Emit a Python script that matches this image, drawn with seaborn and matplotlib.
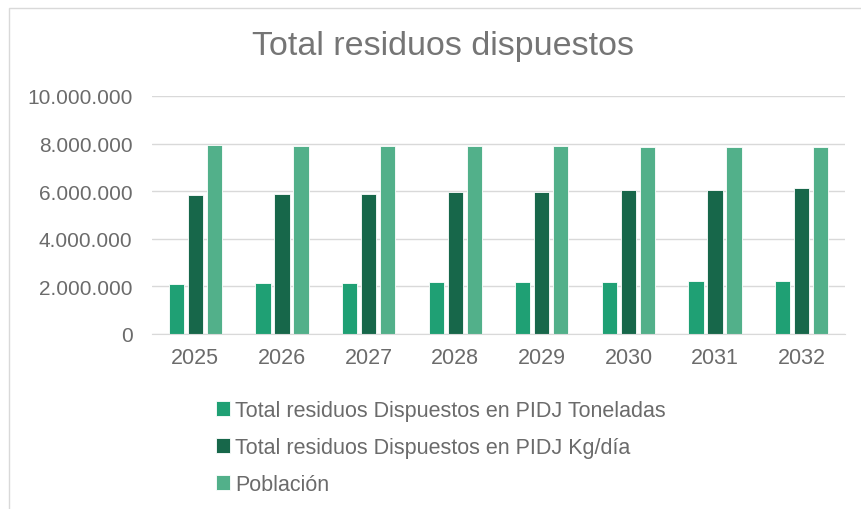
import matplotlib.pyplot as plt
from matplotlib.ticker import FuncFormatter
import seaborn as sns
import pandas as pd

# === Data ===
years = ["2025", "2026", "2027", "2028", "2029", "2030", "2031", "2032"]
toneladas = [2120000, 2140000, 2150000, 2170000, 2180000, 2200000, 2210000, 2230000]
kg_dia = [5830000, 5870000, 5900000, 5950000, 5980000, 6030000, 6070000, 6120000]
poblacion = [7930000, 7920000, 7910000, 7900000, 7880000, 7870000, 7850000, 7840000]

series_names = [
    "Total residuos Dispuestos en PIDJ Toneladas",
    "Total residuos Dispuestos en PIDJ Kg/día",
    "Población",
]
colors = ["#1fa074", "#17674a", "#52b08a"]

df = pd.DataFrame({
    "year": years * 3,
    "value": toneladas + kg_dia + poblacion,
    "serie": [series_names[0]] * 8 + [series_names[1]] * 8 + [series_names[2]] * 8,
})

sns.set_style("white")
plt.rcParams["font.family"] = ["Liberation Sans", "DejaVu Sans"]
gray = "#6b6b6b"

fig = plt.figure(figsize=(8.61, 5.10), dpi=100)
# plot area: x 152..845, y 97..335 (pixels)
ax = fig.add_axes([152 / 861, 1 - 335 / 510, 693 / 861, 238 / 510])

sns.barplot(data=df, x="year", y="value", hue="serie", palette=colors,
            saturation=1, width=0.66, gap=0.2, edgecolor="white",
            linewidth=0.6, ax=ax)

ax.set_ylim(0, 10000000)
ax.set_yticks(range(0, 10000001, 2000000))
ax.yaxis.set_major_formatter(FuncFormatter(lambda v, p: f"{int(v):,}".replace(",", ".")))
ax.grid(axis="y", color="#d9d9d9", linewidth=1)
ax.set_axisbelow(True)
for s in ["top", "right", "left"]:
    ax.spines[s].set_visible(False)
ax.spines["bottom"].set_color("#d9d9d9")
ax.tick_params(axis="y", colors=gray, labelsize=15, length=0, pad=14)
ax.tick_params(axis="x", colors=gray, labelsize=15.5, length=0, pad=9)
ax.set_xlabel("")
ax.set_ylabel("")

fig.text(0.514, 1 - 47 / 510, "Total residuos dispuestos", ha="center", va="center",
         fontsize=24.5, color="#757575")

handles, labels = ax.get_legend_handles_labels()
ax.legend_.remove()
fig.legend(handles, labels, loc="upper left", bbox_to_anchor=(207 / 861, 1 - 392 / 510),
           frameon=False, fontsize=15.5, labelcolor=gray, handlelength=0.65,
           handleheight=0.7, handletextpad=0.25, labelspacing=0.75,
           borderaxespad=0)

# thin border around the chart area
fig.patches.append(plt.Rectangle((9 / 861, -0.02), 1.0, 1 - 9 / 510 + 0.02,
                                 transform=fig.transFigure, fill=False,
                                 edgecolor="#d9d9d9", linewidth=1))

fig.savefig("out.png", dpi=100)
